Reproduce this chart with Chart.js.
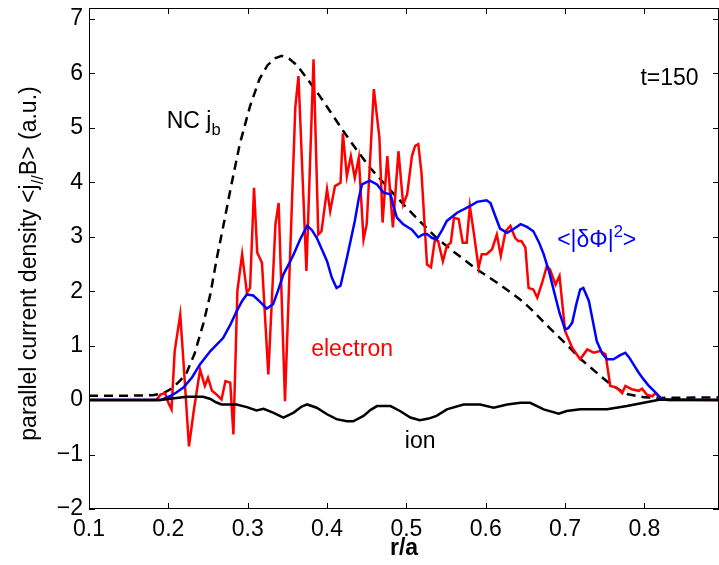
<!DOCTYPE html>
<html>
<head>
<meta charset="utf-8">
<script src="https://cdn.jsdelivr.net/npm/chart.js@4/dist/chart.umd.min.js"></script>
<style>
  body { margin: 0; background: #fff; }
</style>
</head>
<body>
<canvas id="chart" width="719" height="565"></canvas>
<script>
// axis ticks
const xTicks = [0.1, 0.2, 0.3, 0.4, 0.5, 0.6, 0.7, 0.8];
const yTicks = [-2, -1, 0, 1, 2, 3, 4, 5, 6, 7];

// neoclassical bootstrap current (dashed)
const ncR = [0.1, 0.15, 0.18, 0.193, 0.205, 0.215, 0.223, 0.233, 0.244, 0.253, 0.261, 0.27, 0.278, 0.29, 0.303, 0.315, 0.325, 0.335, 0.343, 0.352, 0.362, 0.375, 0.39, 0.404, 0.42, 0.437, 0.454, 0.475, 0.496, 0.517, 0.538, 0.56, 0.589, 0.618, 0.646, 0.66, 0.68, 0.702, 0.72, 0.744, 0.76, 0.778, 0.8, 0.82, 0.894];
const ncJ = [0.08, 0.08, 0.09, 0.12, 0.22, 0.36, 0.5, 0.85, 1.4, 1.95, 2.6, 3.25, 3.85, 4.7, 5.4, 5.9, 6.15, 6.28, 6.32, 6.27, 6.15, 5.9, 5.6, 5.3, 4.95, 4.6, 4.27, 3.93, 3.6, 3.28, 2.98, 2.72, 2.4, 2.12, 1.82, 1.63, 1.33, 1.02, 0.75, 0.45, 0.26, 0.11, 0.05, 0.04, 0.05];

// <|dPhi|^2> (blue)
const phiR = [0.1, 0.19, 0.202, 0.21, 0.219, 0.23, 0.24, 0.253, 0.269, 0.278, 0.286, 0.293, 0.299, 0.307, 0.316, 0.324, 0.332, 0.338, 0.345, 0.352, 0.358, 0.366, 0.375, 0.381, 0.387, 0.394, 0.4, 0.406, 0.412, 0.417, 0.425, 0.435, 0.44, 0.444, 0.454, 0.463, 0.471, 0.48, 0.484, 0.488, 0.496, 0.507, 0.515, 0.521, 0.526, 0.532, 0.538, 0.545, 0.551, 0.564, 0.58, 0.589, 0.601, 0.606, 0.612, 0.618, 0.627, 0.636, 0.644, 0.652, 0.66, 0.667, 0.673, 0.68, 0.686, 0.693, 0.7, 0.704, 0.709, 0.714, 0.719, 0.723, 0.73, 0.735, 0.74, 0.747, 0.753, 0.761, 0.769, 0.776, 0.781, 0.786, 0.792, 0.799, 0.805, 0.812, 0.822, 0.83, 0.894];
const phiJ = [0, 0, 0.07, 0.14, 0.23, 0.42, 0.66, 0.9, 1.14, 1.38, 1.63, 1.82, 1.94, 1.92, 1.8, 1.68, 1.76, 2.0, 2.31, 2.5, 2.68, 2.95, 3.2, 3.12, 2.98, 2.75, 2.55, 2.25, 2.06, 2.1, 2.61, 3.29, 3.7, 3.96, 4.03, 3.96, 3.81, 3.78, 3.55, 3.35, 3.23, 3.13, 2.99, 3.04, 3.05, 2.98, 2.95, 3.12, 3.29, 3.44, 3.56, 3.64, 3.67, 3.62, 3.38, 3.15, 3.07, 3.15, 3.23, 3.18, 3.1, 2.9, 2.68, 2.35, 2.0, 1.6, 1.3, 1.32, 1.42, 1.75, 2.03, 2.06, 1.82, 1.45, 1.08, 0.85, 0.75, 0.75, 0.82, 0.87, 0.78, 0.66, 0.52, 0.38, 0.27, 0.17, 0.02, 0, 0];

// electron current (red)
const eleR = [0.1, 0.185, 0.19, 0.196, 0.2, 0.204, 0.208, 0.215, 0.219, 0.226, 0.232, 0.24, 0.246, 0.25, 0.255, 0.261, 0.267, 0.272, 0.278, 0.282, 0.287, 0.293, 0.299, 0.303, 0.308, 0.312, 0.318, 0.326, 0.335, 0.339, 0.347, 0.36, 0.364, 0.374, 0.383, 0.389, 0.393, 0.4, 0.404, 0.41, 0.417, 0.42, 0.425, 0.43, 0.435, 0.44, 0.446, 0.45, 0.459, 0.466, 0.47, 0.476, 0.483, 0.49, 0.496, 0.501, 0.507, 0.511, 0.515, 0.519, 0.526, 0.531, 0.536, 0.54, 0.546, 0.551, 0.556, 0.56, 0.566, 0.571, 0.576, 0.58, 0.585, 0.591, 0.595, 0.601, 0.608, 0.614, 0.619, 0.625, 0.631, 0.637, 0.641, 0.645, 0.65, 0.654, 0.66, 0.665, 0.671, 0.677, 0.681, 0.688, 0.693, 0.7, 0.709, 0.719, 0.728, 0.736, 0.744, 0.751, 0.757, 0.765, 0.772, 0.776, 0.784, 0.793, 0.797, 0.803, 0.81, 0.814, 0.821, 0.83, 0.894];
const eleJ = [0, 0, 0.1, 0.13, -0.05, -0.17, 0.9, 1.57, 0.72, -0.85, -0.2, 0.56, 0.26, 0.41, 0.17, 0.1, 0.01, 0.35, 0.32, -0.63, 2.0, 2.68, 1.97, 2.06, 3.9, 2.71, 2.52, 0.47, 3.23, 3.62, -0.02, 5.37, 5.95, 2.37, 6.26, 3.04, 3.1, 3.87, 3.47, 3.93, 3.99, 4.9, 4.11, 4.48, 4.08, 4.45, 2.95, 3.23, 5.71, 4.82, 3.26, 4.48, 3.17, 4.57, 3.59, 3.78, 4.48, 4.67, 4.7, 4.18, 2.49, 2.44, 2.95, 2.92, 2.55, 2.83, 2.89, 3.35, 3.32, 2.89, 2.89, 3.56, 3.07, 2.43, 2.68, 2.68, 2.77, 3.04, 2.65, 3.1, 3.2, 2.98, 2.92, 2.92, 2.8, 2.06, 2.03, 1.88, 2.15, 2.46, 2.4, 2.12, 2.28, 1.27, 0.96, 0.75, 0.93, 0.87, 0.9, 0.84, 0.26, 0.23, 0.13, 0.26, 0.2, 0.17, 0.21, 0.1, 0.07, 0.13, 0.02, 0, 0];

// ion current (black)
const ionR = [0.1, 0.19, 0.205, 0.223, 0.244, 0.253, 0.26, 0.267, 0.286, 0.299, 0.311, 0.32, 0.332, 0.345, 0.358, 0.368, 0.375, 0.387, 0.4, 0.412, 0.425, 0.433, 0.446, 0.455, 0.463, 0.48, 0.492, 0.505, 0.517, 0.528, 0.538, 0.551, 0.572, 0.593, 0.61, 0.627, 0.644, 0.656, 0.673, 0.692, 0.702, 0.719, 0.753, 0.778, 0.799, 0.82, 0.894];
const ionJ = [0, 0, 0.03, 0.06, 0.06, 0.02, -0.04, -0.08, -0.08, -0.13, -0.19, -0.16, -0.23, -0.32, -0.23, -0.12, -0.08, -0.14, -0.26, -0.35, -0.39, -0.39, -0.29, -0.18, -0.11, -0.11, -0.2, -0.32, -0.37, -0.34, -0.29, -0.17, -0.08, -0.08, -0.14, -0.08, -0.05, -0.05, -0.17, -0.25, -0.2, -0.17, -0.17, -0.11, -0.05, 0.01, 0];

const FONT = '"Liberation Sans", Arial, Helvetica, sans-serif';
const SIZE = 23;

function pts(xs, ys) {
    return xs.map((x, i) => ({ x: x, y: ys[i] }));
}

// draws text with sub/superscript pieces, left aligned on a baseline
function richText(ctx, x, y, parts, color, size) {
    ctx.fillStyle = color;
    ctx.textBaseline = 'alphabetic';
    ctx.textAlign = 'left';
    parts.forEach(p => {
        let s = size, dy = 0;
        if (p.sub) { s = size * 0.72; dy = size * 0.3; }
        if (p.sup) { s = size * 0.72; dy = -size * 0.42; }
        ctx.font = s + 'px ' + FONT;
        ctx.fillText(p.t, x, y + dy);
        x += ctx.measureText(p.t).width;
    });
}

function richWidth(ctx, parts, size) {
    let w = 0;
    parts.forEach(p => {
        const s = (p.sub || p.sup) ? size * 0.72 : size;
        ctx.font = s + 'px ' + FONT;
        w += ctx.measureText(p.t).width;
    });
    return w;
}

// text labels placed in data coordinates
const labels = [
    { x: 0.795, y: 5.79, color: '#000', parts: [{ t: 't=150' }] },
    { x: 0.198, y: 5.0, color: '#000', parts: [{ t: 'NC j' }, { t: 'b', sub: true }] },
    { x: 0.380, y: 0.81, color: '#ff0000', parts: [{ t: 'electron' }] },
    { x: 0.498, y: -0.88, color: '#000', parts: [{ t: 'ion' }] },
    { x: 0.690, y: 2.81, color: '#0000ff', parts: [{ t: '<|\u03b4\u03a6|' }, { t: '2', sup: true }, { t: '>' }] }
];

const decor = {
    id: 'decor',
    afterDatasetsDraw(chart) {
        const ctx = chart.ctx;
        const a = chart.chartArea;
        const xs = chart.scales.x, ys = chart.scales.y;
        ctx.save();
        // box and inward ticks
        ctx.strokeStyle = '#000';
        ctx.lineWidth = 1;
        ctx.strokeRect(a.left + 0.5, a.top + 0.5, a.right - a.left - 1, a.bottom - a.top - 1);
        ctx.beginPath();
        xTicks.forEach(v => {
            const px = Math.round(xs.getPixelForValue(v)) + 0.5;
            ctx.moveTo(px, a.bottom); ctx.lineTo(px, a.bottom - 6);
            ctx.moveTo(px, a.top); ctx.lineTo(px, a.top + 6);
        });
        yTicks.forEach(v => {
            const py = Math.round(ys.getPixelForValue(v)) + 0.5;
            ctx.moveTo(a.left, py); ctx.lineTo(a.left + 6, py);
            ctx.moveTo(a.right, py); ctx.lineTo(a.right - 6, py);
        });
        ctx.stroke();

        labels.forEach(l => {
            richText(ctx, xs.getPixelForValue(l.x), ys.getPixelForValue(l.y), l.parts, l.color, SIZE);
        });

        // x title
        ctx.fillStyle = '#000';
        ctx.font = 'bold ' + SIZE + 'px ' + FONT;
        ctx.textAlign = 'center';
        ctx.textBaseline = 'middle';
        ctx.fillText('r/a', (a.left + a.right) / 2, 549);

        // y title, rotated
        const yParts = [{ t: 'parallel current density <j' }, { t: '//', sub: true }, { t: 'B> (a.u.)' }];
        const w = richWidth(ctx, yParts, SIZE);
        ctx.translate(36, (a.top + a.bottom) / 2 + 5);
        ctx.rotate(-Math.PI / 2);
        richText(ctx, -w / 2, 0, yParts, '#000', SIZE);
        ctx.restore();
    }
};

new Chart(document.getElementById('chart'), {
    type: 'scatter',
    data: {
        datasets: [
            { label: 'ion', data: pts(ionR, ionJ), borderColor: '#000', borderWidth: 2.5, order: 0 },
            { label: 'phi', data: pts(phiR, phiJ), borderColor: '#0000ff', borderWidth: 2.5, order: 1 },
            { label: 'electron', data: pts(eleR, eleJ), borderColor: '#ff0000', borderWidth: 2.5, order: 2 },
            { label: 'NC', data: pts(ncR, ncJ), borderColor: '#000', borderWidth: 2.5, borderDash: [9, 6], order: 3 }
        ]
    },
    options: {
        responsive: false,
        animation: false,
        devicePixelRatio: 1,
        showLine: true,
        elements: { point: { radius: 0 }, line: { tension: 0, fill: false } },
        layout: { padding: { top: 8, right: 0, left: 0, bottom: 0 } },
        plugins: { legend: { display: false }, tooltip: { enabled: false } },
        scales: {
            x: {
                type: 'linear',
                min: 0.1,
                max: 0.894,
                grid: { display: false, drawTicks: false },
                border: { display: false },
                afterBuildTicks: s => { s.ticks = xTicks.map(v => ({ value: v })); },
                afterFit: s => { s.height = 56; s.paddingLeft = 0; s.paddingRight = 0; },
                ticks: {
                    padding: 7,
                    color: '#000',
                    maxRotation: 0,
                    font: { family: FONT, size: SIZE },
                    callback: v => v.toFixed(1)
                }
            },
            y: {
                min: -2,
                max: 7.2,
                grid: { display: false, drawTicks: false },
                border: { display: false },
                afterBuildTicks: s => { s.ticks = yTicks.map(v => ({ value: v })); },
                afterFit: s => { s.width = 89; s.paddingTop = 0; s.paddingBottom = 0; },
                ticks: {
                    padding: 6,
                    color: '#000',
                    font: { family: FONT, size: SIZE },
                    callback: v => String(v).replace('-', '\u2212')
                }
            }
        }
    },
    plugins: [decor]
});
</script>
</body>
</html>
